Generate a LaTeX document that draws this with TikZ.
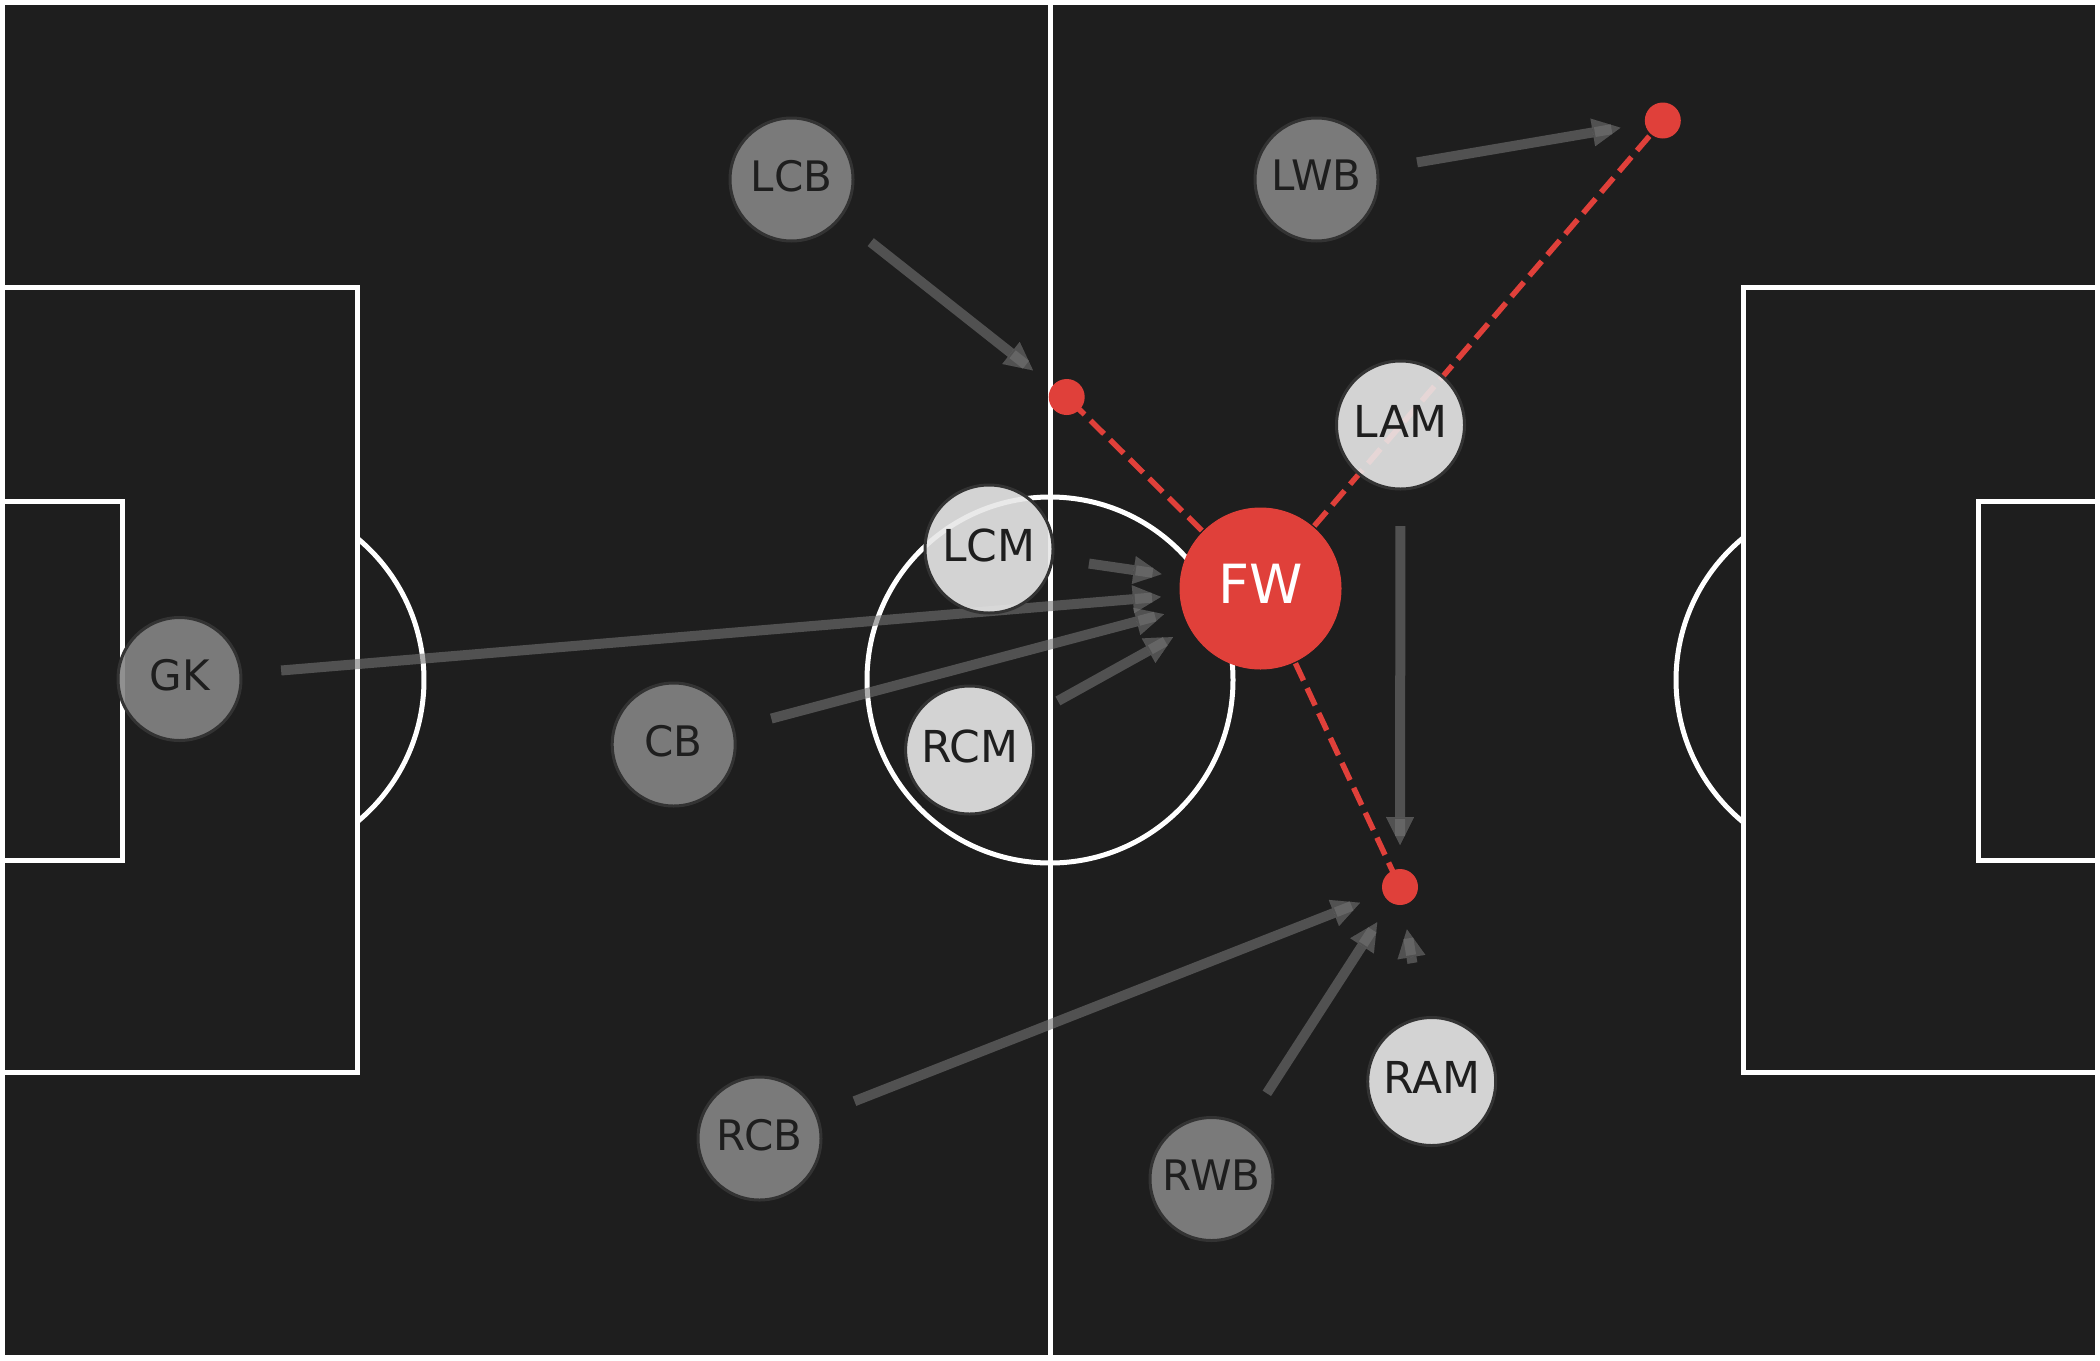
\documentclass[tikz,border=0pt]{standalone}
\usepackage{fontspec}
\setmainfont{DejaVu Sans}
\usetikzlibrary{arrows.meta,calc}
\definecolor{bgc}{RGB}{30,30,30}
\definecolor{fwred}{RGB}{224,64,58}
\definecolor{darkp}{RGB}{132,132,132}
\definecolor{lightp}{RGB}{231,231,231}
\definecolor{edgec}{RGB}{51,51,51}
\definecolor{txt}{RGB}{30,30,30}
\definecolor{arrc}{RGB}{115,115,115}
\pgfdeclarelayer{pitchlayer}
\pgfdeclarelayer{linklayer}
\pgfsetlayers{pitchlayer,linklayer,main}
\newcommand\runlink[4]{%
  \draw[runarrow,shorten <=#3pt,shorten >=#4pt] (#1.center) -- (#2.center);
  \draw[runshaft] ($(#2.center)!#4pt+26pt!(#1.center)$) -- ($(#2.center)!#4pt+9pt!(#1.center)$);
}
\begin{document}
\begin{tikzpicture}[x=1pt,y=-1pt,
  pline/.style={draw=white,line width=5pt},
  darknode/.style={circle,draw=edgec,line width=3pt,fill=darkp,fill opacity=0.9,text opacity=1,
    minimum size=123pt,inner sep=0pt,text=txt,font=\fontsize{42pt}{42pt}\selectfont,text depth=8pt},
  lightnode/.style={circle,draw=edgec,line width=3pt,fill=lightp,fill opacity=0.9,text opacity=1,
    minimum size=128pt,inner sep=0pt,text=txt,font=\fontsize{44pt}{44pt}\selectfont,text depth=8pt},
  fwnode/.style={circle,draw=fwred,line width=1pt,fill=fwred,minimum size=161pt,inner sep=0pt,
    text=white,font=\fontsize{54pt}{54pt}\selectfont,text depth=9pt},
  target/.style={circle,fill=fwred,minimum size=36pt,inner sep=0pt},
  runarrow/.style={draw=arrc,line width=10pt,opacity=0.6,
    -{Triangle[length=28pt,width=28pt,line width=0.01pt]}},
  runshaft/.style={draw=arrc,line width=10pt,opacity=0.6},
  passline/.style={draw=fwred,line width=5.5pt,dash pattern=on 19pt off 8.5pt}]

\useasboundingbox (0,0) rectangle (2100,1360);

% players
\node[darknode] (LCB) at (791.5,179.5) {LCB};
\node[darknode] (LWB) at (1316.5,179.5) {LWB};
\node[lightnode] (LAM) at (1400.5,425) {LAM};
\node[lightnode] (LCM) at (989,549) {LCM};
\node[fwnode] (FW) at (1260.5,588.5) {FW};
\node[darknode] (GK) at (179.5,679) {GK};
\node[darknode] (CB) at (673.7,744.5) {CB};
\node[lightnode] (RCM) at (969.6,750) {RCM};
\node[darknode] (RCB) at (759.5,1138.5) {RCB};
\node[darknode] (RWB) at (1211.5,1179) {RWB};
\node[lightnode] (RAM) at (1431.7,1081.5) {RAM};
% targets
\node[target] (t1) at (1066.7,397) {};
\node[target] (t2) at (1662.8,120.5) {};
\node[target] (t3) at (1400,887) {};

\begin{pgfonlayer}{pitchlayer}
\fill[bgc] (0,0) rectangle (2100,1360);
\draw[pline] (2.5,2.5) rectangle (2097.5,1357.5);
\draw[pline] (1050,0) -- (1050,1360);
\draw[pline] (1050,680) circle[radius=183];
% left
\draw[pline] (0,287) -- (357,287) -- (357,1072) -- (0,1072);
\draw[pline] (0,501) -- (122,501) -- (122,860) -- (0,860);
\draw[pline] (240,680) ++(-50.5:184) arc[start angle=-50.5,end angle=50.5,radius=184];
% right
\draw[pline] (2100,287) -- (1743,287) -- (1743,1072) -- (2100,1072);
\draw[pline] (2100,501) -- (1978,501) -- (1978,860) -- (2100,860);
\draw[pline] (1860,680) ++(129.5:184) arc[start angle=129.5,end angle=230.5,radius=184];
\end{pgfonlayer}

\begin{pgfonlayer}{linklayer}
\draw[passline] (FW.center) -- (t1.center);
\draw[passline] (FW.center) -- (t2.center);
\draw[passline] (FW.center) -- (t3.center);
\runlink{LCB}{t1}{101}{43}
\runlink{LWB}{t2}{102}{43}
\runlink{LCM}{FW}{101}{100}
\runlink{GK}{FW}{102}{100}
\runlink{CB}{FW}{101}{100}
\runlink{RCM}{FW}{101}{100}
\runlink{LAM}{t3}{101}{42}
\runlink{RCB}{t3}{102}{43}
\runlink{RWB}{t3}{102}{42}
\runlink{RAM}{t3}{120}{43}
\end{pgfonlayer}
\end{tikzpicture}
\end{document}
